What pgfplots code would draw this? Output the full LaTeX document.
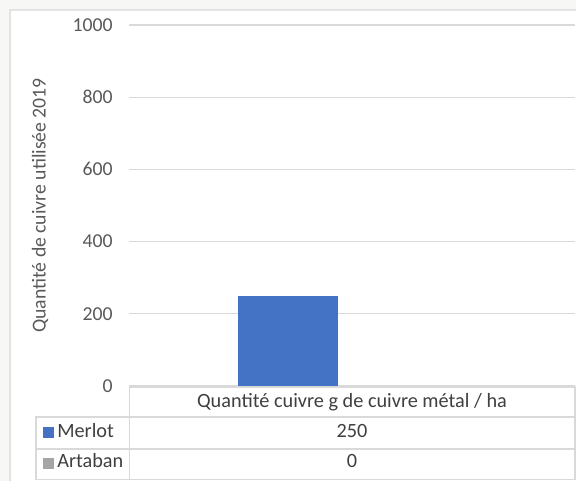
\documentclass[border=0pt]{standalone}
\usepackage{pgfplots}
\pgfplotsset{compat=1.18}
\usepackage{fontspec}
\setmainfont{Carlito}
\definecolor{merlot}{HTML}{4472C4}
\definecolor{artaban}{HTML}{A5A5A5}
\definecolor{ticktxt}{HTML}{595959}
\definecolor{tabtxt}{HTML}{404040}
\definecolor{gridc}{HTML}{D9D9D9}
\definecolor{outbg}{HTML}{F7F7F5}
\definecolor{framec}{HTML}{E3E3E3}
\begin{document}
\begin{tikzpicture}[x=0.75pt,y=0.75pt]
\useasboundingbox (0,0) rectangle (576,481);
\fill[outbg] (0,0) rectangle (576,481);
\fill[white] (9.5,0) rectangle (576,470.5);
\draw[framec,line width=1.5pt] (9.5,0) -- (9.5,470.5) -- (576,470.5);
\begin{axis}[
  at={(97.125pt,71.25pt)}, anchor=south west,
  scale only axis, width=334.1pt, height=270.75pt,
  ymin=0, ymax=1000, ytick={0,200,...,1000},
  xmin=-0.5, xmax=0.5, xtick=\empty,
  ymajorgrids, grid style={color=gridc, line width=0.9pt},
  axis line style={draw=none}, major tick length=0pt,
  ybar, bar width=75pt,
  /pgf/number format/assume math mode=true,
  /pgf/number format/1000 sep={},
  yticklabel style={anchor=east, inner sep=0pt, xshift=-12.4pt, font=\fontsize{14.8}{17}\selectfont, text=ticktxt},
  ylabel={Quantité de cuivre utilisée 2019},
  ylabel style={at={(axis description cs:-0.2009,0.5)}, anchor=center, font=\fontsize{14.8}{17}\selectfont, text=ticktxt},
  clip=false,
]
\addplot[fill=merlot, draw=none, bar shift=-48.2pt] coordinates {(0,250)};
\addplot[fill=none, draw=none, bar shift=48.2pt] coordinates {(0,0)};
\end{axis}
% data table
\begin{scope}[gridc, line width=0.9pt]
\draw (129.5,1.5) -- (129.5,94) -- (575,94) -- (575,1.5) -- (36,1.5) -- (36,64) -- (575,64);
\draw (36,32) -- (575,32);
\end{scope}
\fill[merlot] (43,43) rectangle (54,54);
\fill[artaban] (43,12) rectangle (54,23);
\begin{scope}[every node/.style={inner sep=0pt, text=tabtxt, font=\fontsize{15.2}{18}\selectfont}]
\node[anchor=base west] at (57,43.5) {Merlot};
\node[anchor=base west] at (57,13) {Artaban};
\node[anchor=base] at (352,73) {Quantité cuivre g de cuivre métal / ha};
\node[anchor=base] at (352,43.5) {250};
\node[anchor=base] at (352,13) {0};
\end{scope}
\end{tikzpicture}
\end{document}
